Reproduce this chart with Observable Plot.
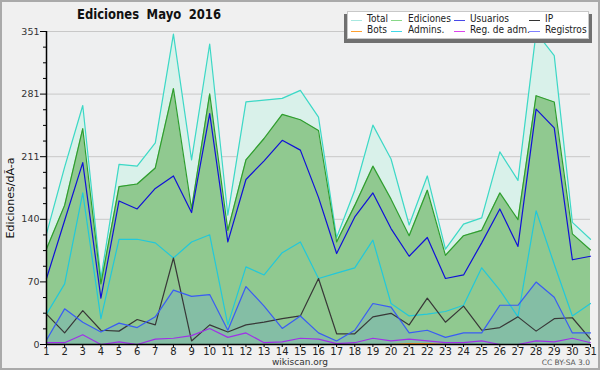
<!DOCTYPE html>
<html>
<head>
<meta charset="utf-8">
<script src="https://cdn.jsdelivr.net/npm/d3@7"></script>
<script src="https://cdn.jsdelivr.net/npm/@observablehq/plot@0.6"></script>
<style>
  html, body { margin: 0; padding: 0; background: #f0f0f0; }
  #wrap { position: relative; width: 600px; height: 370px; background: #f0f0f0; font-family: "DejaVu Sans", sans-serif; overflow: hidden; }
  #border { position: absolute; left: 0; top: 0; width: 600px; height: 370px; box-sizing: border-box; border: 2px solid #aaaaaa; pointer-events: none; }
  #title { position: absolute; left: 149px; top: 6px; transform: translateX(-50%) scaleX(0.86); font-weight: bold; font-size: 13.5px; line-height: 16px; color: #111; word-spacing: 4px; white-space: nowrap; }
  #ylabel { position: absolute; left: 10px; top: 198px; transform: translate(-50%, -50%) rotate(-90deg); font-size: 11px; color: #111; white-space: nowrap; }
  #legend-shadow { position: absolute; left: 344px; top: 14px; width: 248px; height: 29px; background: #707070; }
  #legend { position: absolute; left: 347px; top: 11px; width: 242px; height: 28px; background: #fff; border: 1px solid #c8c8c8; box-sizing: border-box; }
  .li { position: absolute; font-size: 9.8px; color: #222; white-space: nowrap; line-height: 11px; height: 11px; transform-origin: 0 50%; transform: scaleX(0.92); }
  .sw { position: absolute; height: 1px; z-index: 2; }
  #site { position: absolute; left: 0; width: 600px; top: 358px; line-height: 9px; text-align: center; font-size: 9px; color: #333; }
  #cc { position: absolute; right: 10px; top: 359px; line-height: 8px; font-size: 7.5px; color: #555; }
</style>
</head>
<body>
<div id="wrap">
  <div id="chart"></div>
  <div id="title">Ediciones Mayo 2016</div>
  <div id="ylabel">Ediciones/dÃ-a</div>
  <div id="legend-shadow"></div>
  <div id="legend"></div>
  <div id="site">wikiscan.org</div>
  <div id="cc">CC BY-SA 3.0</div>
  <div id="border"></div>
</div>
<script>
const days = [1,2,3,4,5,6,7,8,9,10,11,12,13,14,15,16,17,18,19,20,21,22,23,24,25,26,27,28,29,30,31];
const total     = [124,199,268,74,202,200,226,348,207,337,145,272,274,276,285,255,120,173,246,208,134,189,107,135,142,216,184,350,324,137,118];
const ediciones = [107,156,242,68,177,180,198,287,152,281,128,207,231,258,252,240,115,156,200,163,122,173,100,122,128,170,140,279,272,124,106];
const usuarios  = [74,139,204,52,161,152,175,189,148,259,115,185,206,229,218,165,102,143,170,130,99,120,74,78,114,152,110,264,243,95,99];
const ip        = [34,13,38,16,15,28,22,97,4,22,14,22,25,29,32,74,12,12,31,35,22,52,25,43,16,19,31,15,29,30,6];
const bots      = [0,0,0,0,0,0,0,0,0,0,0,0,0,0,0,0,0,0,0,0,1,1,0,0,0,0,0,0,0,0,0];
const admins    = [34,68,170,29,118,118,114,97,115,123,22,87,78,103,115,74,80,86,117,46,32,34,37,44,86,61,31,150,90,32,46];
const regadm    = [2,2,11,0,3,0,6,7,10,18,8,13,2,3,7,6,1,2,7,4,6,4,2,2,4,0,0,4,3,7,2];
const registros = [5,40,25,14,24,19,31,61,54,56,16,65,43,18,32,13,4,16,46,42,13,16,8,13,13,44,44,70,53,13,13];

const yMax = 351;
const yMajorLabels = [0, 70, 140, 211, 281, 351];

const legendNames  = ["Total", "Ediciones", "Usuarios", "IP", "Bots", "Admins.", "Reg. de adm.", "Registros"];
const legendColors = ["#a8e8e0", "#88d888", "#4848e8", "#333333", "#ffa030", "#40d8e8", "#dd44ee", "#8080ff"];

const data = days.map((d, i) => ({
  day: d, total: total[i], ediciones: ediciones[i], usuarios: usuarios[i], ip: ip[i],
  bots: bots[i], admins: admins[i], regadm: regadm[i], registros: registros[i]
}));

const step = yMax / 20;
const allTicks = d3.range(0, 21).map(i => i * step);
const majorTicks = allTicks.filter((d, i) => i % 4 === 0);
const minorTicks = allTicks.filter((d, i) => i % 4 !== 0);

const lw = 1.2;
const chart = Plot.plot({
  width: 600,
  height: 370,
  marginLeft: 46,
  marginRight: 10,
  marginTop: 31,
  marginBottom: 26,
  style: { background: "transparent", fontFamily: "'DejaVu Sans', sans-serif" },
  x: { type: "linear", domain: [1, 31], axis: null },
  y: { domain: [0, yMax], axis: null },
  marks: [
    Plot.frame({ fill: "#eeeff0", stroke: null }),
    Plot.ruleY(majorTicks.slice(1), { stroke: "#c8c8c8", strokeWidth: 1 }),
    Plot.areaY(data, { x: "day", y: "total", fill: "#d9f1ea" }),
    Plot.areaY(data, { x: "day", y: "ediciones", fill: "#90c990" }),
    Plot.areaY(data, { x: "day", y: "registros", fill: "#84bea5" }),
    Plot.lineY(data, { x: "day", y: "total", stroke: "#3cd8c6", strokeWidth: lw }),
    Plot.lineY(data, { x: "day", y: "ediciones", stroke: "#2e9e2e", strokeWidth: lw }),
    Plot.lineY(data, { x: "day", y: "admins", stroke: "#22c8da", strokeWidth: lw }),
    Plot.lineY(data, { x: "day", y: "ip", stroke: "#383838", strokeWidth: lw }),
    Plot.lineY(data, { x: "day", y: "usuarios", stroke: "#1010d8", strokeWidth: lw }),
    Plot.lineY(data, { x: "day", y: "registros", stroke: "#3a5cf4", strokeWidth: lw }),
    Plot.lineY(data, { x: "day", y: "bots", stroke: "#ff9020", strokeWidth: lw }),
    Plot.lineY(data, { x: "day", y: "regadm", stroke: "#a030e8", strokeWidth: lw }),
    Plot.ruleY([0], { stroke: "#000", strokeWidth: 1.5 }),
    Plot.ruleX([1], { stroke: "#000", strokeWidth: 1.5 }),
    Plot.axisY(majorTicks, { label: null, tickSize: 6, tickPadding: 1, fontSize: 9.5, tickFormat: (d, i) => String(yMajorLabels[i]), stroke: "#000", color: "#333" }),
    Plot.axisY(minorTicks, { label: null, tickSize: 3, tickFormat: () => "", stroke: "#000" }),
    Plot.axisX(days, { label: null, tickSize: 3, tickPadding: 0, fontSize: 10, stroke: "#000", color: "#222" })
  ]
});
document.getElementById("chart").appendChild(chart);

// legend
const leg = document.getElementById("legend");
const colSwX = [3, 43, 106, 181];
const colTxX = [19, 60, 122, 197];
const rowY = [1, 12];
legendNames.forEach((name, i) => {
  const col = i % 4, row = Math.floor(i / 4);
  const t = document.createElement("div");
  t.className = "li";
  t.style.left = colTxX[col] + "px";
  t.style.top = rowY[row] + "px";
  t.textContent = name;
  leg.appendChild(t);
  const sw = document.createElement("div");
  sw.className = "sw";
  sw.style.left = colSwX[col] + "px";
  sw.style.top = (rowY[row] + 7) + "px";
  sw.style.width = "11px";
  sw.style.backgroundColor = legendColors[i];
  leg.appendChild(sw);
});
</script>
</body>
</html>
